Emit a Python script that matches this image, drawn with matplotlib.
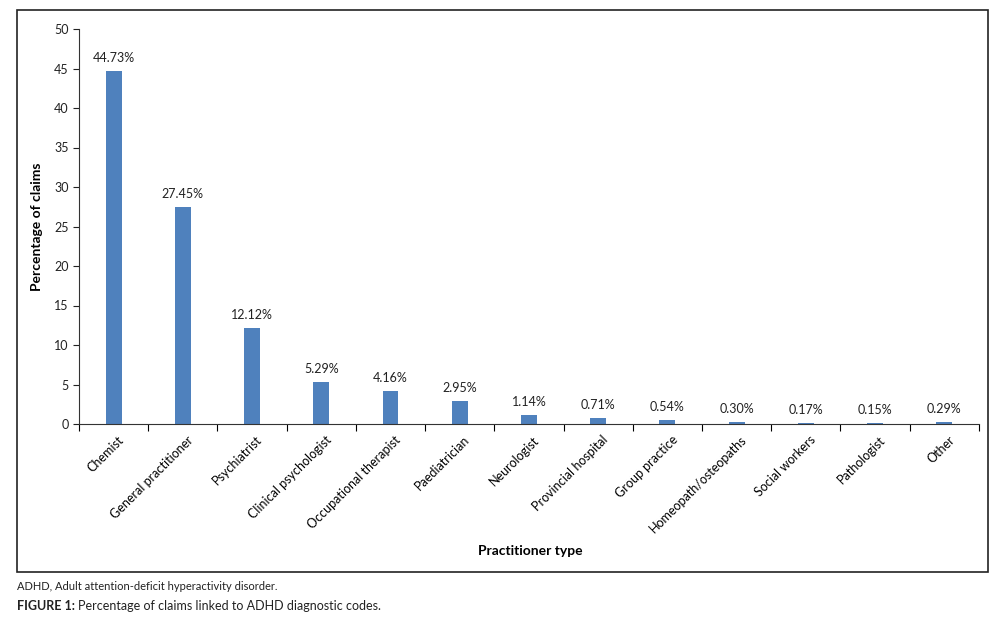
import matplotlib
matplotlib.use("Agg")
import matplotlib.pyplot as plt
import matplotlib.transforms as mtransforms
import numpy as np
from matplotlib.patches import Rectangle

categories = ["Chemist", "General practitioner", "Psychiatrist", "Clinical psychologist",
              "Occupational therapist", "Paediatrician", "Neurologist", "Provincial hospital",
              "Group practice", "Homeopath/osteopaths", "Social workers", "Pathologist", "Other"]
values = [44.73, 27.45, 12.12, 5.29, 4.16, 2.95, 1.14, 0.71, 0.54, 0.30, 0.17, 0.15, 0.29]
yticks = [0, 5, 10, 15, 20, 25, 30, 35, 40, 45, 50]

plt.rcParams['font.family'] = ['Lato', 'DejaVu Sans']
fig = plt.figure(figsize=(10.06, 6.25), dpi=100)
ax = fig.add_axes([0.0785, 0.3216, 0.8945, 0.632])

x = np.arange(len(categories))
bar_color = "#4F81BD"
ax.bar(x, values, width=0.23, color=bar_color)
for xi, v in zip(x, values):
    ax.text(xi, v + 0.9, f"{v:.2f}%", ha='center', va='bottom', fontsize=9, color='#222222')

ax.set_xlim(-0.5, len(categories) - 0.5)
ax.set_ylim(0, 50)
ax.set_yticks(yticks)
ax.tick_params(axis='y', labelsize=9, length=4, direction='out', colors='#222222')
ax.set_xticks(np.arange(-0.5, len(categories), 1.0))
ax.set_xticklabels([])
ax.tick_params(axis='x', which='major', length=5, direction='out')
ax.set_xticks(x, minor=True)
ax.set_xticklabels(categories, minor=True, rotation=45, ha='right', rotation_mode='anchor', fontsize=9)
ax.tick_params(axis='x', which='minor', length=0, pad=7)
offset = mtransforms.ScaledTranslation(4/100, 0, fig.dpi_scale_trans)
for lab in ax.get_xticklabels(minor=True):
    lab.set_transform(lab.get_transform() + offset)
for s in ['top', 'right']:
    ax.spines[s].set_visible(False)
for s in ['left', 'bottom']:
    ax.spines[s].set_color('#333333')

ax.set_ylabel("Percentage of claims", fontsize=10, fontweight='bold', labelpad=8)
fig.text(0.527, 1 - 551/625, "Practitioner type", ha='center', va='center', fontsize=10, fontweight='bold')

fig.patches.append(Rectangle((17/1006, 1 - 572/625), (988 - 17)/1006, (572 - 10)/625,
                             transform=fig.transFigure, fill=False, edgecolor='#222222', linewidth=1.2))

fig.text(17/1006, 1 - 586/625, "ADHD, Adult attention-deficit hyperactivity disorder.", fontsize=8,
         va='center', ha='left', color='#222222')
t1 = fig.text(17/1006, 1 - 606/625, "FIGURE 1:", fontsize=9, fontweight='bold', va='center', ha='left', color='#222222')
fig.canvas.draw()
bb = t1.get_window_extent()
fig.text(bb.x1 / fig.bbox.width + 0.003, 1 - 606/625, "Percentage of claims linked to ADHD diagnostic codes.",
         fontsize=9, va='center', ha='left', color='#222222')

fig.savefig("out.png", dpi=100)
